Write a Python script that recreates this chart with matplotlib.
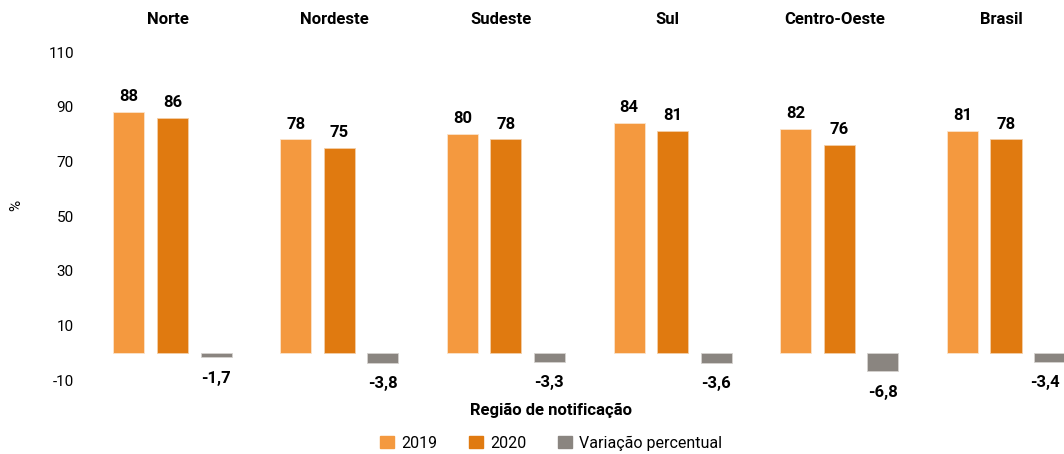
import numpy as np
import matplotlib.pyplot as plt
from matplotlib.patches import Patch
from matplotlib.transforms import blended_transform_factory

plt.rcParams['font.family'] = ['Roboto', 'DejaVu Sans']
plt.rcParams['axes.unicode_minus'] = False

# data
regions = ["Norte", "Nordeste", "Sudeste", "Sul", "Centro-Oeste", "Brasil"]
v2019 = [88, 78, 80, 84, 82, 81]
v2020 = [86, 75, 78, 81, 76, 78]
variation = [-1.7, -3.8, -3.3, -3.6, -6.8, -3.4]
yticks = [-10, 10, 30, 50, 70, 90, 110]

c2019 = "#F4993F"
c2020 = "#E07A10"
cvar = "#8A8580"

fig = plt.figure(figsize=(10.64, 4.54), dpi=100)
# axes placed in pixels: left 85, right 1064, top 52, bottom 380
ax = fig.add_axes([85 / 1064, 1 - 380 / 454, 1 - 85 / 1064, 328 / 454])

x = np.arange(len(regions))
step = 0.261
w = 0.186

b1 = ax.bar(x - step, v2019, w, color=c2019, edgecolor="#FBE3CB", linewidth=0.6)
b2 = ax.bar(x, v2020, w, color=c2020, edgecolor="#F3CFA8", linewidth=0.6)
b3 = ax.bar(x + step, variation, w, color=cvar, edgecolor="#D5D2CF", linewidth=0.6)

# value labels
for rect, v in zip(list(b1) + list(b2), v2019 + v2020):
    ax.annotate(str(v), (rect.get_x() + rect.get_width() / 2, v),
                xytext=(0, 11), textcoords="offset points",
                ha="center", va="center", fontsize=12, fontweight="bold")
for i, (rect, v) in enumerate(zip(b3, variation)):
    dx = -3 if i == len(variation) - 1 else 0  # last one sits at the figure edge
    ax.annotate(f"{v:.1f}".replace(".", ","), (rect.get_x() + rect.get_width() / 2, v),
                xytext=(dx, -15), textcoords="offset points",
                ha="center", va="center", fontsize=12, fontweight="bold")

# region headers above the plot
trans = blended_transform_factory(ax.transData, fig.transFigure)
for xi, name in zip(x, regions):
    ax.text(xi - 0.03, 1 - 20 / 454, name, transform=trans, ha="center", va="center",
            fontsize=12, fontweight="bold")

ax.set_xlim(-(172.5 - 85) / 166.7, (1064 - 172.5) / 166.7)
ax.set_ylim(-10, 110)
ax.set_yticks(yticks)
ax.tick_params(axis="y", length=0, labelsize=11, pad=8)
ax.set_xticks([])
for s in ax.spines.values():
    s.set_visible(False)

fig.text(16 / 1064, 1 - 205 / 454, "%", rotation=90, ha="center", va="center", fontsize=11)
fig.text(551 / 1064, 1 - 410 / 454, "Região de notificação", ha="center", va="center",
         fontsize=12, fontweight="bold")

handles = [Patch(color=c2019, label="2019"), Patch(color=c2020, label="2020"),
           Patch(color=cvar, label="Variação percentual")]
fig.legend(handles=handles, loc="center", bbox_to_anchor=(551 / 1064, 1 - 443 / 454),
           ncol=3, frameon=False, fontsize=11.5, handlelength=0.85, handleheight=0.85,
           columnspacing=2.0, handletextpad=0.45)

fig.savefig("out.png", dpi=100)
